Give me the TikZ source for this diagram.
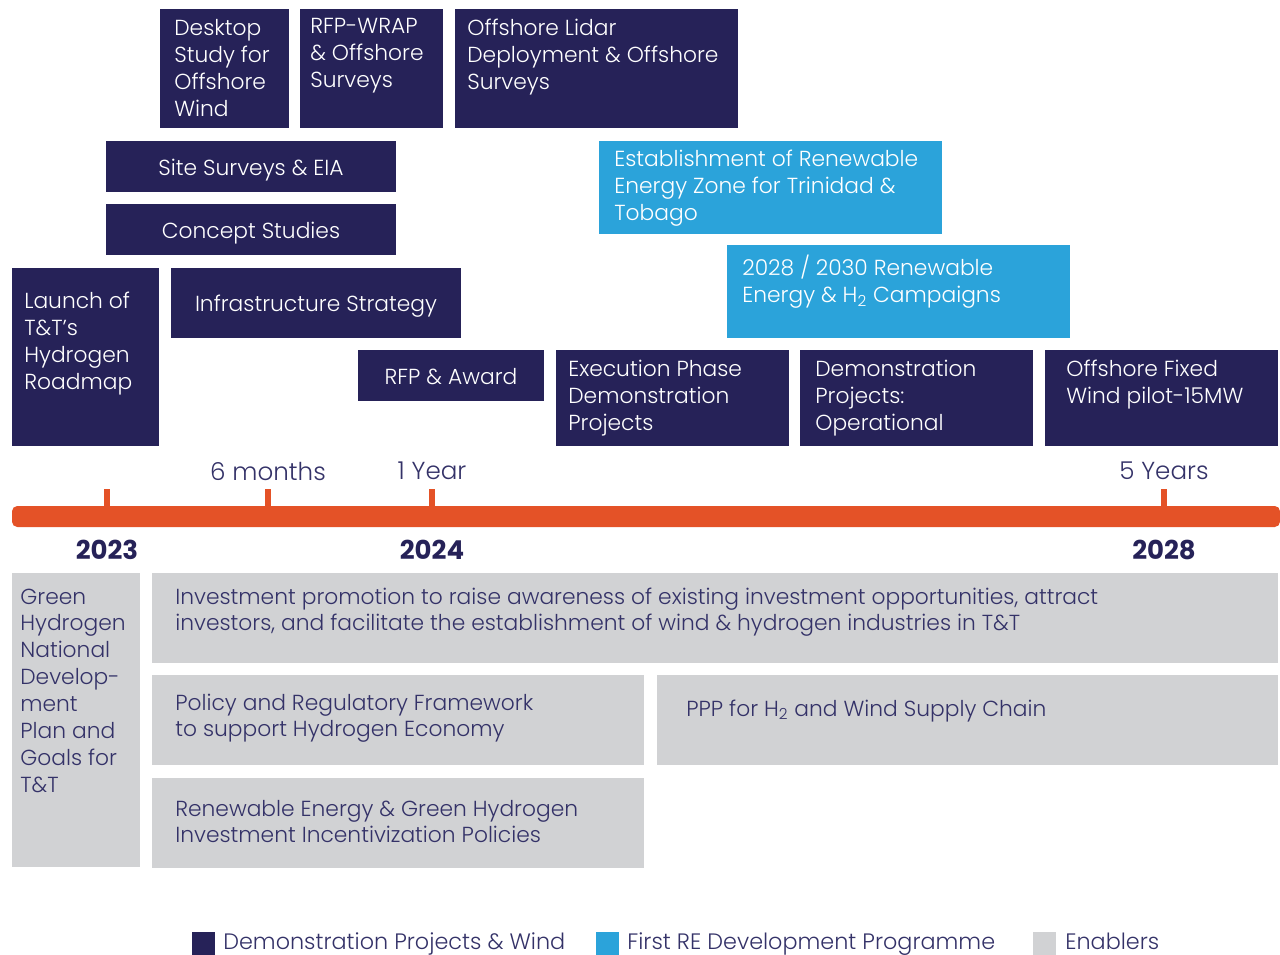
\documentclass[tikz,border=0pt]{standalone}
\usepackage{fontspec}
\setmainfont{Poppins}[UprightFont={* Light},BoldFont={* Bold}]
\usetikzlibrary{fit}
\definecolor{navy}{RGB}{38,34,88}
\definecolor{reblue}{RGB}{43,163,218}
\definecolor{engray}{RGB}{209,210,212}
\definecolor{tlorange}{RGB}{228,82,39}
\definecolor{grtext}{RGB}{52,50,104}
\tikzset{
  pbox/.style={inner sep=0pt, fill=#1},
  wtxt/.style={text=white, inner sep=0pt, anchor=base west,
    font={\fontsize{12.4}{15.3}\selectfont}},
  gtxt/.style={wtxt, text=grtext},
  ctxt/.style={text=white, inner sep=0pt, anchor=base, yshift=-5.1pt,
    font={\fontsize{12.4}{15.3}\selectfont}},
  year/.style={text=navy, font={\fontsize{14.8}{15}\selectfont\bfseries}},
  mark label/.style={text=grtext, font={\fontsize{14}{15}\selectfont}},
  key label/.style={gtxt, font={\fontsize{12.7}{15}\selectfont}}
}
\newcommand{\Htwo}{H\textsubscript{2}}
\newcommand{\stack}[1]{\begin{tabular}[t]{@{}l@{}}#1\end{tabular}}
\begin{document}
\begin{tikzpicture}[x=0.02cm,y=-0.02cm]
  \useasboundingbox (0,0) rectangle (1280,955);

  % demonstration projects & wind
  \node[pbox=navy, fit={(160,9) (289,128)}] (desk) {};
  \node[wtxt] (desk-t) at (174,36) {\stack{Desktop\\Study for\\Offshore\\Wind}};
  \node[pbox=navy, fit={(300,9) (443,128)}] (wrap) {};
  \node[wtxt] (wrap-t) at (310,34) {\stack{RFP-WRAP\\\& Offshore\\Surveys}};
  \node[pbox=navy, fit={(455,9) (738,128)}] (lidar) {};
  \node[wtxt] (lidar-t) at (467,36) {\stack{Offshore Lidar\\Deployment \& Offshore\\Surveys}};
  \node[pbox=navy, fit={(106,141) (396,192)}] (site) {};
  \node[ctxt] (site-t) at (site) {Site Surveys \& EIA};
  \node[pbox=navy, fit={(106,204) (396,255)}] (concept) {};
  \node[ctxt] (concept-t) at (concept) {Concept Studies};
  \node[pbox=navy, fit={(12,268) (159,446)}] (launch) {};
  \node[wtxt] (launch-t) at (24,309) {\stack{Launch of\\T\&T's\\Hydrogen\\Roadmap}};
  \node[pbox=navy, fit={(171,268) (461,338)}] (infra) {};
  \node[ctxt] (infra-t) at (infra) {Infrastructure Strategy};
  \node[pbox=navy, fit={(358,350) (544,401)}] (award) {};
  \node[ctxt] (award-t) at (award) {RFP \& Award};
  \node[pbox=navy, fit={(556,350) (789,446)}] (exec) {};
  \node[wtxt] (exec-t) at (568,377) {\stack{Execution Phase\\Demonstration\\Projects}};
  \node[pbox=navy, fit={(800,350) (1033,446)}] (oper) {};
  \node[wtxt] (oper-t) at (815,377) {\stack{Demonstration\\Projects:\\Operational}};
  \node[pbox=navy, fit={(1045,350) (1278,446)}] (fixed) {};
  \node[wtxt] (fixed-t) at (1066,377) {\stack{Offshore Fixed\\Wind pilot-15MW}};

  % first RE development programme
  \node[pbox=reblue, fit={(599,141) (942,234)}] (zone) {};
  \node[wtxt] (zone-t) at (614,167) {\stack{Establishment of Renewable\\Energy Zone for Trinidad \&\\Tobago}};
  \node[pbox=reblue, fit={(727,245) (1070,338)}] (camp) {};
  \node[wtxt] (camp-t) at (742,276) {\stack{2028 / 2030 Renewable\\Energy \& \Htwo{} Campaigns}};

  % timeline
  \fill[tlorange, rounded corners=3] (12,506) rectangle (1280,527);
  \foreach \x/\lbl in {107/,268/6 months,432/1 Year,1164/5 Years}{
    \fill[tlorange] (\x-3,489) rectangle (\x+3,507);
    \node[mark label] (m\x) at (\x,471) {\lbl};
  }
  \node[year] (y2023) at (107,550) {2023};
  \node[year] (y2024) at (432,550) {2024};
  \node[year] (y2028) at (1164,550) {2028};

  % enablers
  \node[pbox=engray, fit={(12,573) (140,867)}] (plan) {};
  \node[gtxt] (plan-t) at (20,604) {\stack{Green\\Hydrogen\\National\\Develop-\\ment\\Plan and\\Goals for\\T\&T}};
  \node[pbox=engray, fit={(152,573) (1278,663)}] (invest) {};
  \node[gtxt] (invest-t) at (175,604) {\stack{Investment promotion to raise awareness of existing investment opportunities, attract\\investors, and facilitate the establishment of wind \& hydrogen industries in T\&T}};
  \node[pbox=engray, fit={(152,675) (644,765)}] (policy) {};
  \node[gtxt] (policy-t) at (175,710) {\stack{Policy and Regulatory Framework\\to support Hydrogen Economy}};
  \node[pbox=engray, fit={(657,675) (1278,765)}] (ppp) {};
  \node[gtxt] (ppp-t) at (686,716) {PPP for \Htwo{} and Wind Supply Chain};
  \node[pbox=engray, fit={(152,778) (644,868)}] (incent) {};
  \node[gtxt] (incent-t) at (175,816) {\stack{Renewable Energy \& Green Hydrogen\\Investment Incentivization Policies}};

  % legend
  \node[pbox=navy, fit={(192,932) (215,955)}] (key1) {};
  \node[key label] (key1-t) at (223,949) {Demonstration Projects \& Wind};
  \node[pbox=reblue, fit={(596,932) (619,955)}] (key2) {};
  \node[key label] (key2-t) at (627,949) {First RE Development Programme};
  \node[pbox=engray, fit={(1033,932) (1056,955)}] (key3) {};
  \node[key label] (key3-t) at (1065,949) {Enablers};
\end{tikzpicture}
\end{document}
